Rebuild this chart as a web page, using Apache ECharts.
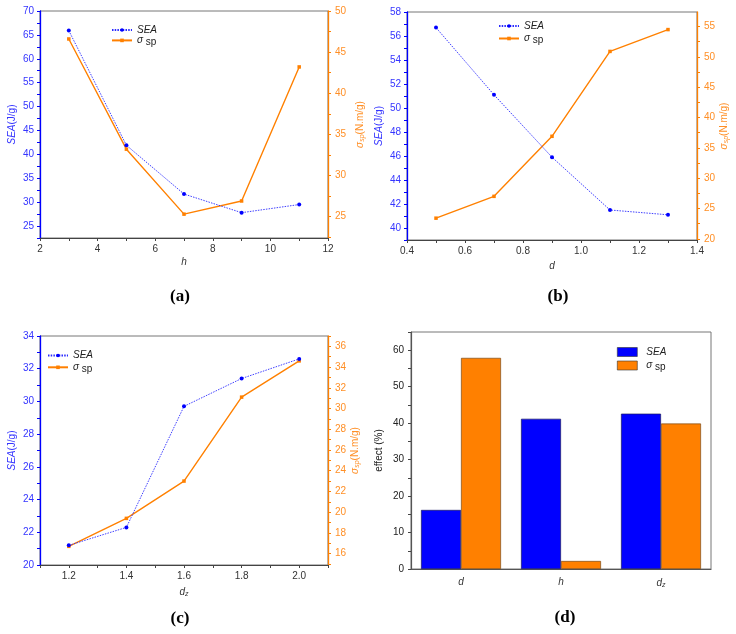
<!DOCTYPE html>
<html><head><meta charset="utf-8">
<script src="https://cdn.jsdelivr.net/npm/echarts@6/dist/echarts.min.js"></script>
<style>html,body{margin:0;padding:0;background:#fff}#c{width:736px;height:634px}</style>
</head><body><div id="c"></div>
<script>
// ---------- data ----------
const hVals = [3, 5, 7, 9, 11];
const seaH = [65.9, 41.9, 31.7, 27.8, 29.5];
const spH = [46.6, 33.2, 25.3, 26.9, 43.2];

const dVals = [0.5, 0.7, 0.9, 1.1, 1.3];
const seaD = [56.7, 51.1, 45.9, 41.5, 41.1];
const spD = [23.4, 27.0, 36.9, 50.9, 54.5];

const dzVals = [1.2, 1.4, 1.6, 1.8, 2.0];
const seaDz = [21.2, 22.3, 29.7, 31.4, 32.6];
const spDz = [16.7, 19.4, 23.0, 31.1, 34.6];

const effectCats = ['d', 'h', 'dz'];
const effectSEA = [16.2, 41.2, 42.6];
const effectSp = [57.9, 2.2, 39.9];

// ---------- tick labels ----------
const xLabA = [2, 4, 6, 8, 10, 12];
const xTickA = [2, 3, 4, 5, 6, 7, 8, 9, 10, 11, 12];
const yLabAL = [25, 30, 35, 40, 45, 50, 55, 60, 65, 70];
const yTickAL = [22.5, 25, 27.5, 30, 32.5, 35, 37.5, 40, 42.5, 45, 47.5, 50, 52.5, 55, 57.5, 60, 62.5, 65, 67.5, 70];
const yLabAR = [25, 30, 35, 40, 45, 50];
const yTickAR = [22.5, 25, 27.5, 30, 32.5, 35, 37.5, 40, 42.5, 45, 47.5, 50];

const xLabB = [0.4, 0.6, 0.8, 1.0, 1.2, 1.4];
const xTickB = [0.4, 0.5, 0.6, 0.7, 0.8, 0.9, 1.0, 1.1, 1.2, 1.3, 1.4];
const yLabBL = [40, 42, 44, 46, 48, 50, 52, 54, 56, 58];
const yTickBL = [39, 40, 41, 42, 43, 44, 45, 46, 47, 48, 49, 50, 51, 52, 53, 54, 55, 56, 57, 58];
const yLabBR = [20, 25, 30, 35, 40, 45, 50, 55];
const yTickBR = [20, 22.5, 25, 27.5, 30, 32.5, 35, 37.5, 40, 42.5, 45, 47.5, 50, 52.5, 55, 57.5];

const xLabC = [1.2, 1.4, 1.6, 1.8, 2.0];
const xTickC = [1.1, 1.2, 1.3, 1.4, 1.5, 1.6, 1.7, 1.8, 1.9, 2.0, 2.1];
const yLabCL = [20, 22, 24, 26, 28, 30, 32, 34];
const yTickCL = [20, 21, 22, 23, 24, 25, 26, 27, 28, 29, 30, 31, 32, 33, 34];
const yLabCR = [16, 18, 20, 22, 24, 26, 28, 30, 32, 34, 36];
const yTickCR = [15, 16, 17, 18, 19, 20, 21, 22, 23, 24, 25, 26, 27, 28, 29, 30, 31, 32, 33, 34, 35, 36, 37];

const yLabD = [0, 10, 20, 30, 40, 50, 60];
const yTickD = [0, 5, 10, 15, 20, 25, 30, 35, 40, 45, 50, 55, 60, 65];

// ---------- style ----------
const FONT = '"Liberation Sans", Arial, sans-serif';
const BLUE = '#0000ff', ORANGE = '#ff8000';
const BLUE_T = '#3535ff', OR_T = '#ff8f26';

const zip = (a, b) => a.map((v, i) => [v, b[i]]);

function nameRich(color) {
  return {
    i: {fontStyle: 'italic', fontSize: 10, color: color, fontFamily: FONT},
    n: {fontSize: 10, color: color, fontFamily: FONT},
    sub: {fontStyle: 'italic', fontSize: 7, color: color, fontFamily: FONT, padding: [5, 0, 0, 0]}
  };
}

function xAxis(grid, min, max, labels, ticks, name, fmt, gap) {
  return {
    type: 'value', gridIndex: grid, min: min, max: max,
    name: name, nameLocation: 'middle', nameGap: gap || 20,
    nameTextStyle: {rich: nameRich('#333')},
    axisLine: {show: true, lineStyle: {color: '#444', width: 1.2}},
    axisTick: {show: true, customValues: ticks, length: 3, lineStyle: {color: '#444'}},
    axisLabel: {customValues: labels, color: '#333', fontSize: 10, fontFamily: FONT, margin: 6,
      formatter: fmt || (v => String(v))},
    splitLine: {show: false}
  };
}

function yAxis(grid, side, min, max, labels, ticks, color, tcolor, name, gap) {
  return {
    type: 'value', gridIndex: grid, position: side, min: min, max: max,
    name: name, nameLocation: 'middle', nameGap: gap, nameRotate: 90,
    nameTextStyle: {rich: nameRich(tcolor)},
    axisLine: {show: true, onZero: false, lineStyle: {color: color, width: 1.3}},
    axisTick: {show: true, customValues: ticks, length: 3, lineStyle: {color: color}},
    axisLabel: {customValues: labels, color: tcolor, fontSize: 10, fontFamily: FONT, margin: side === 'right' ? 7 : 6},
    splitLine: {show: false}
  };
}

const seaName = '{i|SEA}{n|(J/g)}';
const spName = '{i|σ}{sub|sp}{n|(N.m/g)}';

function lineSeries(name, xi, yi, data) {
  const isSea = name === 'SEA';
  return {
    type: 'line', name: name, xAxisIndex: xi, yAxisIndex: yi, data: data,
    symbol: isSea ? 'circle' : 'rect', symbolSize: isSea ? 4 : 3.5,
    itemStyle: {color: isSea ? BLUE : ORANGE},
    lineStyle: {color: isSea ? '#2a2aff' : ORANGE, width: isSea ? 0.9 : 1.4, type: isSea ? [1.5, 1.2] : 'solid'},
    z: isSea ? 3 : 2, animation: false
  };
}

function legend(left, top, gap, icon) {
  const l = {
    orient: 'vertical', left: left, top: top,
    data: ['SEA', 'σsp'],
    itemWidth: 20, itemHeight: icon ? 9 : 4.5, itemGap: gap,
    selectedMode: false, padding: 0,
    formatter: n => n === 'SEA' ? '{i|SEA}' : '{g|σ}{s| sp}',
    textStyle: {
      fontSize: 10, fontFamily: FONT, color: '#222', lineHeight: 10,
      rich: {
        i: {fontStyle: 'italic', fontSize: 10, fontFamily: FONT, color: '#222', lineHeight: 10},
        g: {fontStyle: 'italic', fontSize: 10, fontFamily: FONT, color: '#222', lineHeight: 10},
        s: {fontSize: 10, fontFamily: FONT, color: '#222', lineHeight: 10, padding: [3, 0, 0, 0]}
      }
    }
  };
  if (icon) {
    l.icon = 'rect';
    l.itemStyle = {borderColor: '#333', borderWidth: 0.6};
    l.textStyle.padding = [0, 0, 0, 4];
  }
  return l;
}

const gridStyle = {show: true, borderColor: '#777', borderWidth: 1, backgroundColor: 'transparent'};

const option = {
  animation: false,
  backgroundColor: '#fff',
  grid: [
    Object.assign({left: 40, top: 11, width: 288, height: 227}, gridStyle),
    Object.assign({left: 407, top: 12, width: 290, height: 228}, gridStyle),
    Object.assign({left: 40, top: 336, width: 288, height: 229}, gridStyle),
    Object.assign({left: 411, top: 332, width: 300, height: 237}, gridStyle)
  ],
  xAxis: [
    xAxis(0, 2, 12, xLabA, xTickA, '{i|h}', null, 19),
    xAxis(1, 0.4, 1.4, xLabB, xTickB, '{i|d}', v => v.toFixed(1), 21),
    xAxis(2, 1.1, 2.1, xLabC, xTickC, '{i|d}{sub|z}', v => v.toFixed(1), 21),
    {
      type: 'category', gridIndex: 3, data: effectCats,
      axisLine: {show: true, lineStyle: {color: '#555', width: 1.2}},
      axisTick: {show: false},
      axisLabel: {
        margin: 8, fontSize: 10, fontFamily: FONT,
        formatter: v => v === 'dz' ? '{i|d}{sub|z}' : '{i|' + v + '}',
        rich: nameRich('#333')
      }
    }
  ],
  yAxis: [
    yAxis(0, 'left', 22.5, 70, yLabAL, yTickAL, BLUE, BLUE_T, seaName, 23),
    yAxis(0, 'right', 22.4, 50, yLabAR, yTickAR, ORANGE, OR_T, spName, 26),
    yAxis(1, 'left', 39, 58, yLabBL, yTickBL, BLUE, BLUE_T, seaName, 23),
    yAxis(1, 'right', 19.8, 57.4, yLabBR, yTickBR, ORANGE, OR_T, spName, 21),
    yAxis(2, 'left', 20, 34, yLabCL, yTickCL, BLUE, BLUE_T, seaName, 23),
    yAxis(2, 'right', 14.9, 37, yLabCR, yTickCR, ORANGE, OR_T, spName, 21),
    {
      type: 'value', gridIndex: 3, min: 0, max: 65,
      name: 'effect (%)', nameLocation: 'middle', nameGap: 27, nameRotate: 90,
      nameTextStyle: {fontSize: 10, fontFamily: FONT, color: '#222'},
      axisLine: {show: true, lineStyle: {color: '#555', width: 1.2}},
      axisTick: {show: true, customValues: yTickD, length: 3, lineStyle: {color: '#444'}},
      axisLabel: {customValues: yLabD, color: '#222', fontSize: 10, fontFamily: FONT, margin: 7},
      splitLine: {show: false}
    }
  ],
  legend: [
    legend(111, 25, -1.1),
    legend(498, 21, 1.0),
    legend(47, 350.5, 0.3),
    legend(617, 347, 2.0, true)
  ],
  series: [
    lineSeries('SEA', 0, 0, zip(hVals, seaH)),
    lineSeries('σsp', 0, 1, zip(hVals, spH)),
    lineSeries('SEA', 1, 2, zip(dVals, seaD)),
    lineSeries('σsp', 1, 3, zip(dVals, spD)),
    lineSeries('SEA', 2, 4, zip(dzVals, seaDz)),
    lineSeries('σsp', 2, 5, zip(dzVals, spDz)),
    {
      type: 'bar', name: 'SEA', xAxisIndex: 3, yAxisIndex: 6, data: effectSEA,
      barGap: '0%', barCategoryGap: '20%',
      itemStyle: {color: BLUE, borderColor: '#1a1a60', borderWidth: 0.7}
    },
    {
      type: 'bar', name: 'σsp', xAxisIndex: 3, yAxisIndex: 6, data: effectSp,
      barGap: '0%', barCategoryGap: '20%',
      itemStyle: {color: ORANGE, borderColor: '#7a4a1a', borderWidth: 0.7}
    }
  ],
  graphic: [
    {type: 'text', x: 180, y: 297, style: {text: '(a)', font: 'bold 17px "Liberation Serif", "Times New Roman", serif', align: 'center', verticalAlign: 'middle', fill: '#000'}},
    {type: 'text', x: 558, y: 297, style: {text: '(b)', font: 'bold 17px "Liberation Serif", "Times New Roman", serif', align: 'center', verticalAlign: 'middle', fill: '#000'}},
    {type: 'text', x: 180, y: 619, style: {text: '(c)', font: 'bold 17px "Liberation Serif", "Times New Roman", serif', align: 'center', verticalAlign: 'middle', fill: '#000'}},
    {type: 'text', x: 565, y: 618, style: {text: '(d)', font: 'bold 17px "Liberation Serif", "Times New Roman", serif', align: 'center', verticalAlign: 'middle', fill: '#000'}}
  ]
};

const chart = echarts.init(document.getElementById('c'), null, {renderer: 'canvas'});
chart.setOption(option);
</script>
</body></html>
